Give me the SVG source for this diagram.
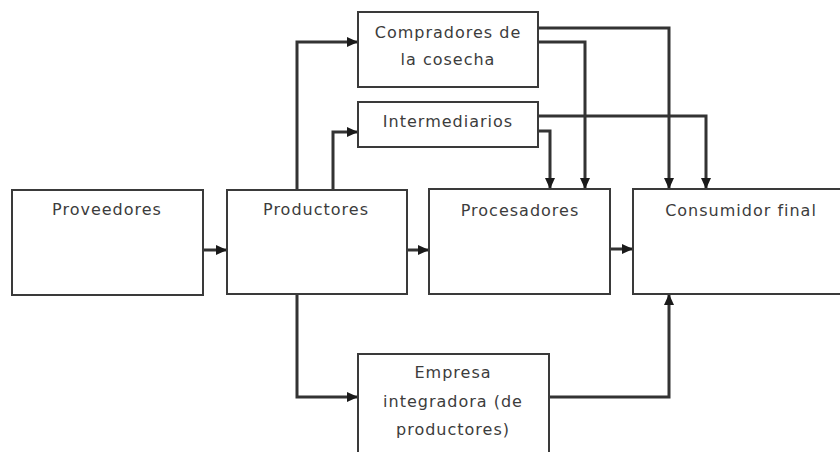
<svg xmlns="http://www.w3.org/2000/svg" width="840" height="452" viewBox="0 0 840 452">
<style>
.box{fill:#fff;stroke:#3a3a3a;stroke-width:2}
.lbl{font-family:"DejaVu Sans",Verdana,sans-serif;font-size:16px;letter-spacing:1px;fill:#3c3c3c;text-anchor:middle}
.con{fill:none;stroke:#333;stroke-width:3;marker-end:url(#ah)}
</style>
<defs>
<marker id="ah" markerUnits="userSpaceOnUse" markerWidth="12" markerHeight="12" refX="11" refY="6" orient="auto">
<path d="M0,1 L11,6 L0,11 z" fill="#1a1a1a"/>
</marker>
</defs>
<rect width="840" height="452" fill="#fff"/>
<g id="connectors">
<path class="con" d="M203 250 H227"/>
<path class="con" d="M407 250 H429"/>
<path class="con" d="M610 249 H633"/>
<path class="con" d="M297 190 V42 H358"/>
<path class="con" d="M333 190 V132 H358"/>
<path class="con" d="M538 28 H669 V189"/>
<path class="con" d="M538 42 H585 V189"/>
<path class="con" d="M538 116 H706 V189"/>
<path class="con" d="M538 131 H550 V189"/>
<path class="con" d="M297 294 V397 H358"/>
<path class="con" d="M549 397 H669 V294"/>
</g>
<g id="proveedores">
<rect class="box" x="12" y="190" width="191" height="105"/>
<text class="lbl" x="107" y="215">Proveedores</text>
</g>
<g id="productores">
<rect class="box" x="227" y="190" width="180" height="104"/>
<text class="lbl" x="316" y="215">Productores</text>
</g>
<g id="procesadores">
<rect class="box" x="429" y="189" width="181" height="105"/>
<text class="lbl" x="520" y="216">Procesadores</text>
</g>
<g id="consumidor">
<rect class="box" x="633" y="189" width="216" height="105"/>
<text class="lbl" x="741" y="216">Consumidor final</text>
</g>
<g id="compradores">
<rect class="box" x="358" y="12" width="180" height="75"/>
<text class="lbl" x="448" y="38">Compradores de</text>
<text class="lbl" x="448" y="65">la cosecha</text>
</g>
<g id="intermediarios">
<rect class="box" x="358" y="102" width="180" height="45"/>
<text class="lbl" x="448" y="127">Intermediarios</text>
</g>
<g id="empresa">
<rect class="box" x="358" y="354" width="191" height="110"/>
<text class="lbl" x="453" y="378">Empresa</text>
<text class="lbl" x="453" y="407">integradora (de</text>
<text class="lbl" x="453" y="435">productores)</text>
</g>
</svg>
